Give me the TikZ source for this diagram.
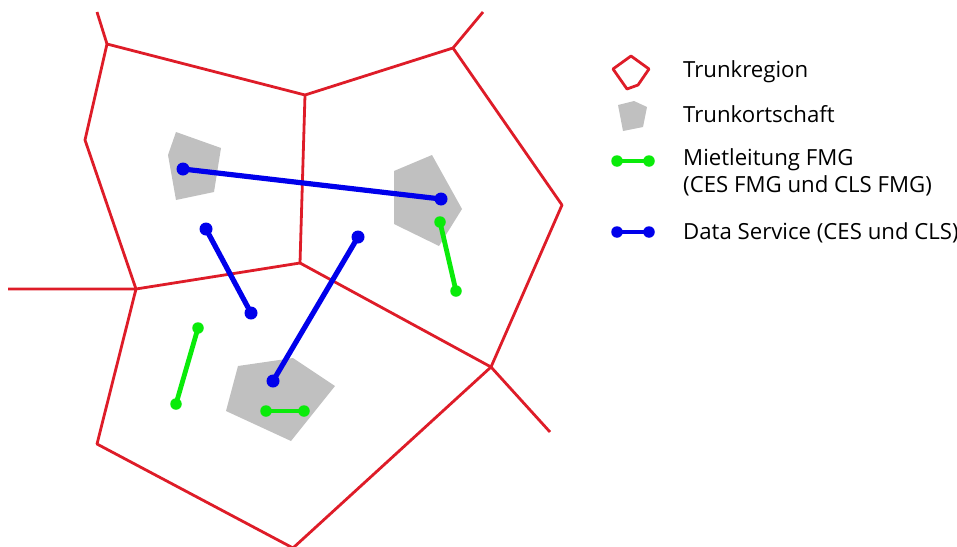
\documentclass[tikz,border=0pt]{standalone}
\usepackage{fontspec}
\setmainfont{Open Sans}
\usetikzlibrary{positioning}
\definecolor{regionred}{RGB}{222,28,40}
\definecolor{placegray}{RGB}{192,192,192}
\definecolor{fmggreen}{RGB}{10,235,10}
\definecolor{dsblue}{RGB}{0,0,235}

\begin{document}
\begin{tikzpicture}[x=1pt,y=-1pt,
  border/.style={regionred, line width=2.8pt, line join=round},
  place/.style={fill=placegray},
  fmg/.style={fmggreen, line width=4.8pt},
  ds/.style={dsblue, line width=5.2pt},
  fmgdot/.style={circle, fill=fmggreen, inner sep=0pt, minimum size=11.5pt},
  dsdot/.style={circle, fill=dsblue, inner sep=0pt, minimum size=13pt},
  legtext/.style={anchor=west, align=left, inner sep=0pt, font=\fontsize{22.2}{27}\selectfont}]

\useasboundingbox (0,0) rectangle (957,546);

% Trunkortschaften
\fill[place] (176,132) -- (221,148) -- (214,192) -- (176,200) -- (168,155) -- cycle;
\fill[place] (432,155) -- (462,209) -- (439,246) -- (394,224) -- (394,171) -- cycle;
\fill[place] (238,366) -- (293,358) -- (335,386) -- (291,441) -- (226,411) -- cycle;

% Trunkregionen (Grenzen)
\coordinate (s1) at (97,12);
\coordinate (s2) at (483,12);
\coordinate (s3) at (550,432);
\coordinate (s4) at (8,289);
\coordinate (A) at (107,44);
\coordinate (B) at (305,95);
\coordinate (C) at (453,48);
\coordinate (D) at (562,205);
\coordinate (E) at (491,367);
\coordinate (F) at (293,548);
\coordinate (G) at (97,444);
\coordinate (H) at (136,289);
\coordinate (I) at (85,140);
\coordinate (J) at (300,263);

\draw[border] (s1) -- (A) -- (B) -- (C) -- (s2);
\draw[border] (C) -- (D) -- (E) -- (s3);
\draw[border] (E) -- (F) -- (G) -- (H) -- (s4);
\draw[border] (H) -- (I) -- (A);
\draw[border] (B) -- (J) -- (H);
\draw[border] (J) -- (E);

% Mietleitungen FMG
\node[fmgdot] (m1a) at (440,222) {};
\node[fmgdot] (m1b) at (456,291) {};
\node[fmgdot] (m2a) at (198,328) {};
\node[fmgdot] (m2b) at (176,404) {};
\node[fmgdot] (m3a) at (266,411) {};
\node[fmgdot] (m3b) at (304,411) {};
\draw[fmg] (m1a.center) -- (m1b.center);
\draw[fmg] (m2a.center) -- (m2b.center);
\draw[fmg] (m3a.center) -- (m3b.center);

% Data Service
\node[dsdot] (d1a) at (183,169) {};
\node[dsdot] (d1b) at (441,199) {};
\node[dsdot] (d2a) at (206,229) {};
\node[dsdot] (d2b) at (251,313) {};
\node[dsdot] (d3a) at (358,237) {};
\node[dsdot] (d3b) at (273,381) {};
\draw[ds] (d1a.center) -- (d1b.center);
\draw[ds] (d2a.center) -- (d2b.center);
\draw[ds] (d3a.center) -- (d3b.center);

% Legende
\draw[border] (631,56) -- (649,69) -- (638,85) -- (627,89) -- (613,69) -- cycle;
\fill[place] (618,105) -- (634,101) -- (647,107) -- (643,127) -- (623,131) -- cycle;
\node[fmgdot] (lm1) at (617,161) {};
\node[fmgdot] (lm2) at (649,161) {};
\draw[fmg] (lm1.center) -- (lm2.center);
\node[dsdot, minimum size=11.5pt] (ld1) at (617,232) {};
\node[dsdot, minimum size=11.5pt] (ld2) at (649,232) {};
\draw[ds, line width=4.8pt] (ld1.center) -- (ld2.center);

\node[legtext] (tregion) at (683,72) {Trunkregion};
\node[legtext] (tort) at (683,114) {Trunkortschaft};
\node[legtext] (tfmg) at (683,172) {Mietleitung FMG\\(CES FMG und CLS FMG)};
\node[legtext] (tds) at (683,233) {Data Service (CES und CLS)};

\end{tikzpicture}
\end{document}
